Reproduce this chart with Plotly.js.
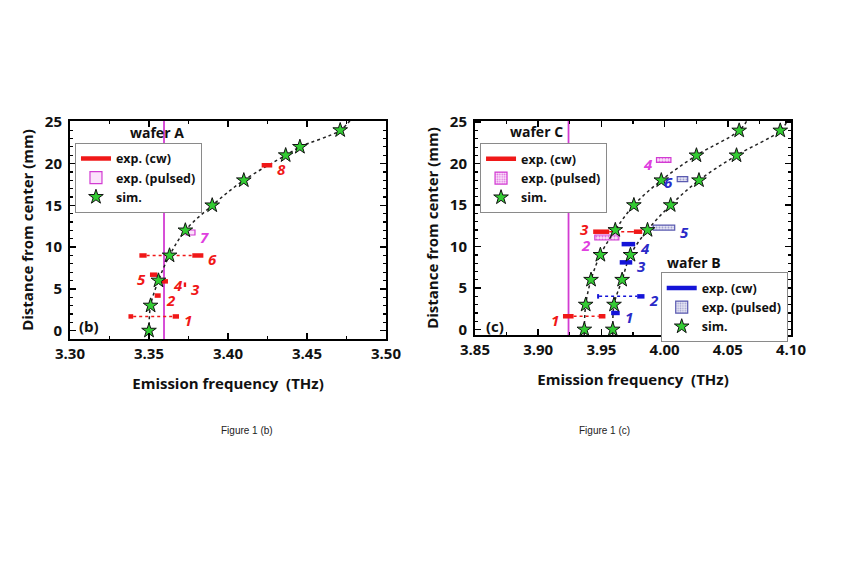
<!DOCTYPE html>
<html>
<head>
<meta charset="utf-8">
<script src="https://cdn.plot.ly/plotly-3.0.1.min.js"></script>
<style>
  body { margin: 0; background: #fff; }
  #chart { width: 844px; height: 563px; }
</style>
</head>
<body>
<div id="chart"></div>
<script>
// ------ WAFER A  (figure b)
const simA_x = [3.350, 3.351, 3.356, 3.363, 3.373, 3.390, 3.410, 3.4365, 3.4455, 3.471];
const simA_y = [0, 3, 6, 9, 12, 15, 18, 21, 22, 24];
// dashed guide (runs past the frame)
const guideA_x = [3.350, 3.350, 3.351, 3.356, 3.363, 3.373, 3.390, 3.410, 3.4365, 3.4455, 3.471, 3.479];
const guideA_y = [-1.5, 0, 3, 6, 9, 12, 15, 18, 21, 22, 24, 25.6];

const cwA_label = ["1", "2", "3", "4", "5", "6", "8"];
const cwA_y     = [1.7, 4.2, 5.5, 5.9, 6.7, 9.0, 19.8];
const cwA_from  = [3.337, 3.3536, 3.372, 3.358, 3.3506, 3.3439, 3.4213];
const cwA_to    = [3.340, 3.3574, 3.3735, 3.362, 3.3553, 3.3485, 3.428];
const cwA_from2 = [3.365, null, null, null, null, 3.3774, null];
const cwA_to2   = [3.369, null, null, null, null, 3.3844, null];

const puA_label = ["7"];
const puA_y     = [11.75];
const puA_from  = [3.3734];
const puA_to    = [3.3791];

const refA = 3.3595;

// ------ WAFER C / WAFER B  (figure c)
const sim_y  = [0, 3, 6, 9, 12, 15, 18, 21, 24];
const simC_x = [3.9365, 3.9376, 3.9418, 3.9492, 3.961, 3.9757, 3.9974, 4.0252, 4.059];
const simB_x = [3.959, 3.960, 3.9664, 3.973, 3.9865, 4.0048, 4.0272, 4.0569, 4.0915];
const guideC_x = [3.9365, 3.9365, 3.9376, 3.9418, 3.9492, 3.961, 3.9757, 3.9974, 4.0252, 4.059, 4.066];
const guideB_x = [3.959, 3.959, 3.960, 3.9664, 3.973, 3.9865, 4.0048, 4.0272, 4.0569, 4.0915, 4.098];
const guide_y  = [-1.5, 0, 3, 6, 9, 12, 15, 18, 21, 24, 25.4];

const cwC_label = ["1", "3"];
const cwC_y     = [1.6, 11.8];
const cwC_from  = [3.9196, 3.9435];
const cwC_to    = [3.928, 3.9562];
const cwC_from2 = [3.9479, 3.9757];
const cwC_to2   = [3.9532, 3.9823];

const puC_label = ["2", "4"];
const puC_y     = [11.1, 20.45];
const puC_from  = [3.9448, 3.9936];
const puC_to    = [3.9638, 4.0050];

const cwB_label = ["1", "2", "3", "4"];
const cwB_y     = [2.0, 4.0, 8.1, 10.3];
const cwB_from  = [3.9577, 3.9466, 3.9645, 3.9660];
const cwB_to    = [3.9645, 3.9482, 3.9744, 3.9767];
const cwB_from2 = [null, 3.9783, null, null];
const cwB_to2   = [null, 3.9841, null, null];

const puB_label = ["5", "6"];
const puB_y     = [12.3, 18.15];
const puB_from  = [3.991, 4.010];
const puB_to    = [4.008, 4.0183];

const refC = 3.924;

// ------ STYLES
const RED = "#f01818";
const BLUE = "#1414d8";
const MAG = "#d23cd2";
const STAR = "#33cc33";
const FONT = "Open Sans";

// which side of the bar the number sits on, and a small vertical nudge (px)
const labelSideA = { "5": ["l", -4] };
const labelSideC = { "1": ["l", -4], "3": ["l", 3], "2": ["l", -7], "4": ["l", -4] };
const labelSideB = { "6": ["l", -3] };
const linkDash = { C1: "dashdot" };

// FUNCTIONS
function cwTrace(from, to, from2, to2, ys, color, ax, name, legend) {
  const x = [], y = [];
  for (let i = 0; i < ys.length; i++) {
    x.push(from[i], to[i], null);
    y.push(ys[i], ys[i], null);
    if (from2[i] != null) {
      x.push(from2[i], to2[i], null);
      y.push(ys[i], ys[i], null);
    }
  }
  return {
    x: x, y: y, xaxis: ax[0], yaxis: ax[1], type: "scatter", mode: "lines",
    line: { color: color, width: 4.5 }, name: name, legend: legend,
    connectgaps: false, hoverinfo: "skip"
  };
}

function linkTraces(from2, to, ys, color, ax, key) {
  const out = [];
  for (let i = 0; i < ys.length; i++) {
    if (from2[i] == null) continue;
    out.push({
      x: [to[i], from2[i]], y: [ys[i], ys[i]], xaxis: ax[0], yaxis: ax[1],
      type: "scatter", mode: "lines", showlegend: false, hoverinfo: "skip",
      line: { color: color, width: 1.5, dash: linkDash[key + i] || "dot" }
    });
  }
  return out;
}

function pulsedTrace(from, to, ys, ax, name, legend, fill, edge, pattern) {
  return {
    type: "bar", orientation: "h", xaxis: ax[0], yaxis: ax[1],
    y: ys, base: from, x: from.map((f, i) => to[i] - f), width: 0.6,
    marker: { color: fill, line: { color: edge, width: 1.2 }, pattern: pattern },
    name: name, legend: legend, hoverinfo: "skip"
  };
}

function simTrace(xs, ys, ax, legend) {
  return {
    x: xs, y: ys, xaxis: ax[0], yaxis: ax[1], type: "scatter", mode: "markers",
    marker: { symbol: "star", size: 11, color: STAR, line: { color: "#111", width: 1 } },
    name: "sim.", legend: legend, hoverinfo: "skip"
  };
}

function guideTrace(xs, ys, ax) {
  return {
    x: xs, y: ys, xaxis: ax[0], yaxis: ax[1], type: "scatter", mode: "lines",
    line: { color: "#222", width: 1.5, dash: "3px,3px", shape: "spline" },
    showlegend: false, hoverinfo: "skip"
  };
}

function numberLabels(labels, ys, from, to, to2, sides, color, ax) {
  return labels.map((t, i) => {
    const s = sides[t] || ["r", -4];
    const right = to2 && to2[i] != null ? to2[i] : to[i];
    return {
      xref: ax[0], yref: ax[1], x: s[0] === "l" ? from[i] : right, y: ys[i],
      text: t, showarrow: false, xanchor: s[0] === "l" ? "right" : "left",
      xshift: s[0] === "l" ? -2 : 3, yshift: s[1],
      font: { family: FONT, size: 15, color: color, weight: "bold", style: "italic" }
    };
  });
}

const axL = ["x", "y"], axR = ["x2", "y2"];

var data = [
  guideTrace(guideA_x, guideA_y, axL),
  ...linkTraces(cwA_from2, cwA_to, cwA_y, RED, axL, "A"),
  cwTrace(cwA_from, cwA_to, cwA_from2, cwA_to2, cwA_y, RED, axL, "exp. (cw)", "legend"),
  pulsedTrace(puA_from, puA_to, puA_y, axL, "exp. (pulsed)", "legend", "#fbe2fb", MAG, {}),
  simTrace(simA_x, simA_y, axL, "legend"),

  guideTrace(guideC_x, guide_y, axR),
  guideTrace(guideB_x, guide_y, axR),
  ...linkTraces(cwC_from2, cwC_to, cwC_y, RED, axR, "C"),
  ...linkTraces(cwB_from2, cwB_to, cwB_y, BLUE, axR, "B"),
  cwTrace(cwC_from, cwC_to, cwC_from2, cwC_to2, cwC_y, RED, axR, "exp. (cw)", "legend2"),
  pulsedTrace(puC_from, puC_to, puC_y, axR, "exp. (pulsed)", "legend2", "#fbe2fb", MAG,
    { shape: ".", fgcolor: "#e070e0", bgcolor: "#fbe2fb", size: 3, solidity: 0.35 }),
  simTrace(simC_x, sim_y, axR, "legend2"),
  cwTrace(cwB_from, cwB_to, cwB_from2, cwB_to2, cwB_y, BLUE, axR, "exp. (cw)", "legend3"),
  pulsedTrace(puB_from, puB_to, puB_y, axR, "exp. (pulsed)", "legend3", "#e2e2f2", "#5a5ab0",
    { shape: ".", fgcolor: "#a0a0d0", bgcolor: "#e6e6f4", size: 3, solidity: 0.3 }),
  simTrace(simB_x, sim_y, axR, "legend3")
];

const tickFont = { family: FONT, size: 15, color: "#111", weight: "bold" };
const titleFont = { family: FONT, size: 15, color: "#111", weight: "bold" };

function xAxis(domain, range, anchor) {
  return {
    domain: domain, range: range, anchor: anchor, dtick: 0.05, tickformat: ".2f",
    ticks: "inside", ticklen: 6, tickwidth: 1.5, tickcolor: "#000",
    minor: { dtick: 0.025, ticks: "inside", ticklen: 3, tickcolor: "#000", tickwidth: 1.2 },
    showline: true, linecolor: "#000", linewidth: 2, mirror: "allticks",
    showgrid: false, zeroline: false, tickfont: tickFont,
    title: { text: "Emission frequency  (THz)", font: titleFont, standoff: 16 }
  };
}
function yAxis(domain, range, anchor) {
  return {
    domain: domain, range: range, anchor: anchor, dtick: 5,
    ticks: "inside", ticklen: 6, tickwidth: 1.5, tickcolor: "#000",
    minor: { dtick: 1, ticks: "inside", ticklen: 3, tickcolor: "#000", tickwidth: 1.2 },
    showline: true, linecolor: "#000", linewidth: 2, mirror: "allticks",
    showgrid: false, zeroline: false, tickfont: tickFont, ticklabelstandoff: 3,
    title: { text: "Distance from center (mm)", font: titleFont, standoff: 8 }
  };
}

function legendBox(x, y) {
  return {
    x: x, y: y, xanchor: "left", yanchor: "top", bgcolor: "#fff",
    bordercolor: "#8a8a8a", borderwidth: 1, tracegroupgap: 0, itemwidth: 30,
    font: { family: FONT, size: 12.5, color: "#111", weight: "bold" }
  };
}

function note(text, x, y, size, extra) {
  return Object.assign({
    xref: "paper", yref: "paper", x: x, y: y, text: text, showarrow: false,
    yanchor: "middle",
    font: { family: FONT, size: size, color: "#111", weight: "bold" }
  }, extra || {});
}

var layout = {
  width: 844, height: 563,
  margin: { l: 70, r: 53, t: 121, b: 224 },
  paper_bgcolor: "#fff", plot_bgcolor: "#fff",
  showlegend: true, barmode: "overlay",
  xaxis: xAxis([0, 0.4383], [3.30, 3.50], "y"),
  yaxis: yAxis([0, 1], [-1, 25.1], "x"),
  xaxis2: xAxis([0.5617, 1], [3.85, 4.10], "y2"),
  yaxis2: yAxis([0.0183, 1], [-0.66, 25.15], "x2"),
  legend: legendBox(0.0069, 0.900),
  legend2: legendBox(0.5687, 0.898),
  legend3: legendBox(0.8193, 0.306),
  shapes: [
    { type: "line", xref: "x", yref: "y domain", x0: refA, x1: refA, y0: 0, y1: 1,
      line: { color: MAG, width: 1.8 }, layer: "below" },
    { type: "line", xref: "x2", yref: "y2 domain", x0: refC, x1: refC, y0: 0, y1: 1,
      line: { color: MAG, width: 1.8 }, layer: "below" }
  ],
  annotations: [
    note("wafer A", 0.0798, 0.945, 14),
    note("wafer C", 0.6477, 0.950, 14),
    note("wafer B", 0.905, 0.349, 14),
    note("(b)", 0.0097, 0.06, 15, { xanchor: "left" }),
    note("(c)", 0.574, 0.06, 15, { xanchor: "left" }),
    note("Figure 1 (b)", 0.2067, -0.422, 10,
      { font: { family: "Liberation Sans", size: 10, color: "#222" } }),
    note("Figure 1 (c)", 0.7795, -0.422, 10,
      { font: { family: "Liberation Sans", size: 10, color: "#222" } }),
    ...numberLabels(cwA_label, cwA_y, cwA_from, cwA_to, cwA_to2, labelSideA, RED, axL),
    ...numberLabels(puA_label, puA_y, puA_from, puA_to, null, labelSideA, "#e040e0", axL),
    ...numberLabels(cwC_label, cwC_y, cwC_from, cwC_to, cwC_to2, labelSideC, RED, axR),
    ...numberLabels(puC_label, puC_y, puC_from, puC_to, null, labelSideC, "#e040e0", axR),
    ...numberLabels(cwB_label, cwB_y, cwB_from, cwB_to, cwB_to2, labelSideB, "#2a2ac8", axR),
    ...numberLabels(puB_label, puB_y, puB_from, puB_to, null, labelSideB, "#2a2ac8", axR)
  ]
};

Plotly.newPlot("chart", data, layout, { displayModeBar: false, staticPlot: true });
</script>
</body>
</html>
